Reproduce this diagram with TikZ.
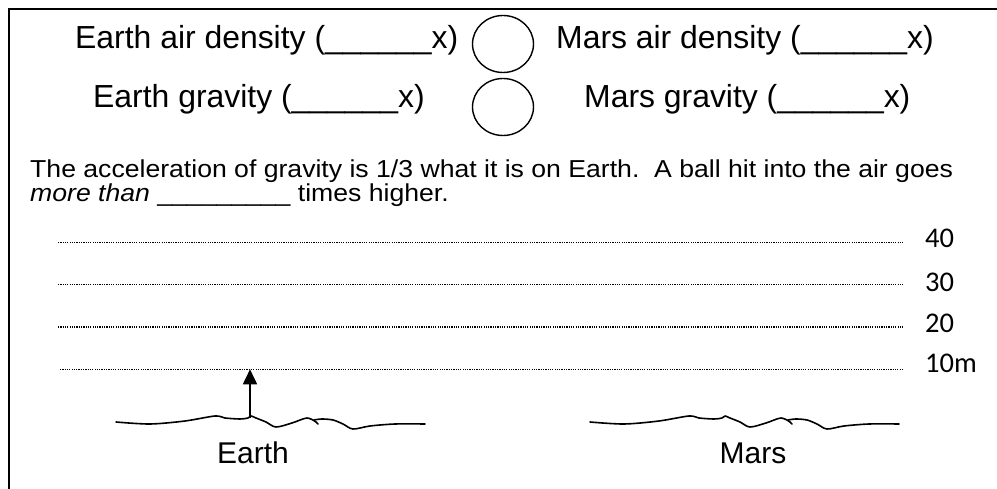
\documentclass[tikz,border=0pt]{standalone}
\usepackage{fontspec}
\setmainfont{Liberation Sans}
\newfontfamily\numfont{Carlito}
\usetikzlibrary{arrows.meta}
\tikzset{
  bigtxt/.style={anchor=base west, inner sep=0pt, font=\fontsize{31.9}{37}\selectfont},
  sentence/.style={anchor=base west, inner sep=0pt, font=\fontsize{24.5}{28}\selectfont},
  numlbl/.style={anchor=base west, inner sep=0pt, font=\numfont\fontsize{28.5}{33}\selectfont},
  planet/.style={anchor=base, inner sep=0pt, font=\fontsize{30}{36}\selectfont},
  guide/.style={line width=1.3pt, dash pattern=on 1.2pt off 1.1pt},
  ground/.style={line width=1.6pt, line join=round, line cap=round},
  frame/.style={line width=1.6pt},
  blank/.style={line width=1.4pt}
}
\begin{document}
\begin{tikzpicture}[x=1pt,y=-1pt]
\useasboundingbox (0,0) rectangle (997,489);
% frame
\draw[frame] (9,489) -- (9,9) -- (997,9);
% top rows
\node[bigtxt] (ead) at (75,49) {Earth air density (\_\_\_\_\_\_x)};
\node[bigtxt] (mad) at (556,49) {Mars air density (\_\_\_\_\_\_x)};
\node[bigtxt] (eg) at (93,108) {Earth gravity (\_\_\_\_\_\_x)};
\node[bigtxt] (mg) at (584,108) {Mars gravity (\_\_\_\_\_\_x)};
\draw[blank] (503,44) ellipse [x radius=30.5, y radius=28.5];
\draw[blank] (503,107) ellipse [x radius=30.5, y radius=28.5];
% sentence
\node[sentence] (s1) at (30,178) {\scalebox{1.086}[1]{The acceleration of gravity is 1/3 what it is on Earth.\ \ A ball hit into the air goes}};
\node[sentence] (s2) at (30,202) {\scalebox{1.086}[1]{\textit{more than} \_\_\_\_\_\_\_\_\_\ times higher.}};
% guide lines
\coordinate (l40a) at (58,242.5); \coordinate (l40b) at (903,242.5);
\coordinate (l30a) at (58,284.8); \coordinate (l30b) at (903,284.8);
\coordinate (l20a) at (58,327);   \coordinate (l20b) at (903,327);
\coordinate (l10a) at (60,369.3); \coordinate (l10b) at (904,369.3);
\draw[guide] (l40a) -- (l40b);
\draw[guide] (l30a) -- (l30b);
\draw[guide] (l20a) -- (l20b);
\draw[guide] (l10a) -- (l10b);
\node[numlbl] (n40) at (925,248) {40};
\node[numlbl] (n30) at (925,292) {30};
\node[numlbl] (n20) at (925,333) {20};
\node[numlbl] (n10) at (925,372) {10m};
% arrow
\coordinate (abase) at (250,418);
\coordinate (atip) at (250,369.3);
\draw[line width=1.8pt, -{Triangle[length=15pt,width=14pt]}] (abase) -- (atip);
% grounds
\foreach \dx in {0, 474}{
  \begin{scope}[xshift=\dx pt]
    \draw[ground] plot[smooth, tension=0.5] coordinates {(116,422) (150,424) (185,421) (215,416) (225,418) (240,419) (248,418) (251,416) (256,418) (266,422) (276,427) (292,423) (307,418) (316,422)};
    \draw[ground] (316,422) -- (318,424);
    \draw[ground] plot[smooth, tension=0.5] coordinates {(314,420) (322,419) (333,420) (343,424) (353,429) (370,426) (395,424) (425,424)};
  \end{scope}
}
\node[planet] (earth) at (253,463) {Earth};
\node[planet] (mars) at (753,463) {Mars};
\end{tikzpicture}
\end{document}
